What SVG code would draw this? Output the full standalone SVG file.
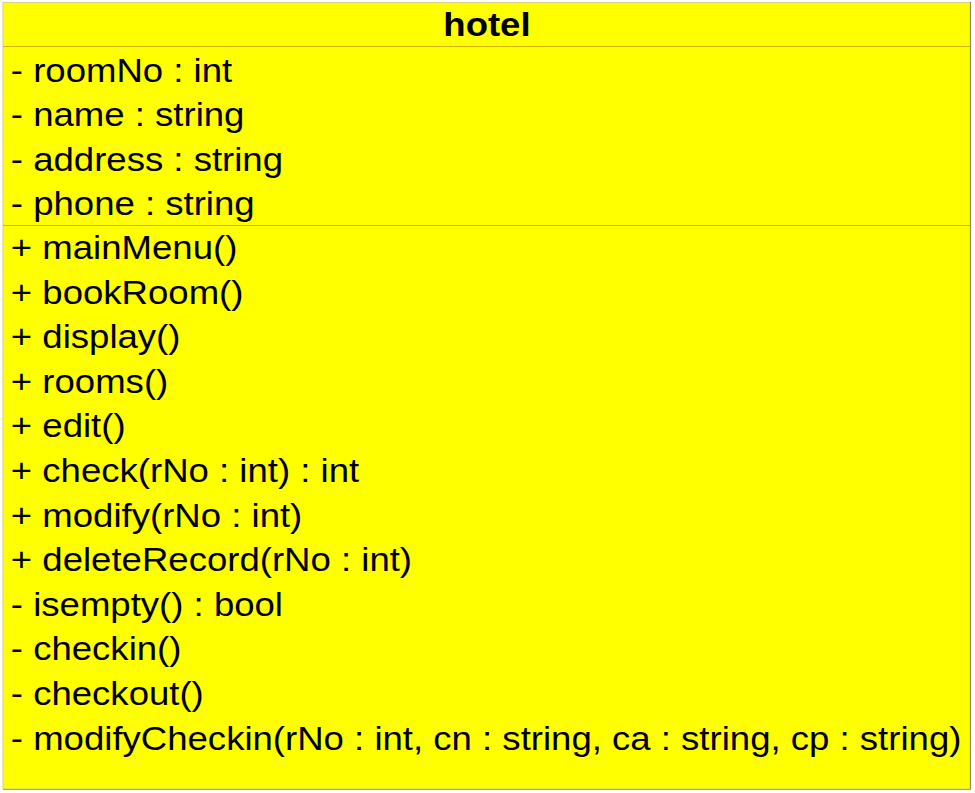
<svg xmlns="http://www.w3.org/2000/svg" width="975" height="793" viewBox="0 0 975 793">
<style>
.t{font-family:"Liberation Sans",Arial,sans-serif;font-size:33px;fill:#000}
.h{font-weight:bold;text-anchor:middle}
.div{stroke:#d2b400;stroke-width:1}
</style>
<rect x="0" y="0" width="975" height="793" fill="#ffffff"/>
<g id="hotel">
<rect x="3" y="2.5" width="967.5" height="786.5" fill="#ffff00" stroke="#d8cf88" stroke-width="1"/>
<line x1="970.5" y1="2" x2="970.5" y2="789.5" stroke="#8a8a7a" stroke-width="1.2"/>
<line x1="3" y1="789.5" x2="971" y2="789.5" stroke="#a8a48a" stroke-width="1.2"/>
<line class="div" x1="3" y1="46.5" x2="970" y2="46.5"/>
<line class="div" x1="3" y1="225.5" x2="970" y2="225.5"/>
<g transform="scale(1.108 1)">
<text class="t h" x="439.5" y="36">hotel</text>
<text class="t" x="9.8" y="82">- roomNo : int</text>
<text class="t" x="9.8" y="126.5">- name : string</text>
<text class="t" x="9.8" y="171">- address : string</text>
<text class="t" x="9.8" y="215.5">- phone : string</text>
<text class="t" x="9.8" y="259">+ mainMenu()</text>
<text class="t" x="9.8" y="303.6">+ bookRoom()</text>
<text class="t" x="9.8" y="348.2">+ display()</text>
<text class="t" x="9.8" y="392.8">+ rooms()</text>
<text class="t" x="9.8" y="437.4">+ edit()</text>
<text class="t" x="9.8" y="482">+ check(rNo : int) : int</text>
<text class="t" x="9.8" y="526.6">+ modify(rNo : int)</text>
<text class="t" x="9.8" y="571.2">+ deleteRecord(rNo : int)</text>
<text class="t" x="9.8" y="615.8">- isempty() : bool</text>
<text class="t" x="9.8" y="660.4">- checkin()</text>
<text class="t" x="9.8" y="705">- checkout()</text>
<text class="t" x="9.8" y="749.6">- modifyCheckin(rNo : int, cn : string, ca : string, cp : string)</text>
</g>
</g>
<g id="connectors"/>
</svg>
